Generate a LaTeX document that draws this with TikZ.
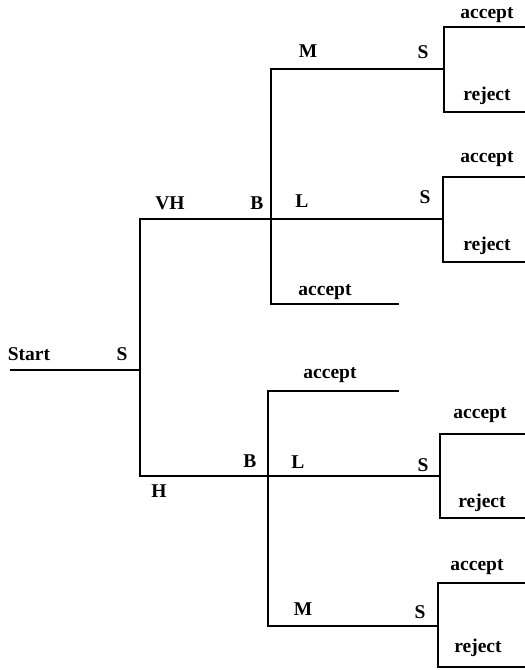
\documentclass[tikz,border=0pt]{standalone}
\usepackage{fontspec}
\setmainfont{Liberation Serif}
\begin{document}
\begin{tikzpicture}[x=1pt,y=-1pt,
  br/.style={line width=1.4pt,line cap=rect},
  lab/.style={inner sep=0pt,anchor=base,font=\fontsize{19.5}{19.5}\selectfont\bfseries}]
\useasboundingbox (0,0) rectangle (525,670);
% branch points
\coordinate (st) at (11,370);
\coordinate (s0) at (140,370);
\coordinate (s0t) at (140,219);
\coordinate (s0b) at (140,476);
\coordinate (b1) at (271,219);
\coordinate (b1t) at (271,69);
\coordinate (b1b) at (271,304);
\coordinate (a1) at (398,304);
\coordinate (s1) at (444,69);
\coordinate (s1t) at (444,27);
\coordinate (s1b) at (444,112);
\coordinate (s1ta) at (525,27);
\coordinate (s1br) at (525,112);
\coordinate (s2) at (443,219);
\coordinate (s2t) at (443,177);
\coordinate (s2b) at (443,262);
\coordinate (s2ta) at (525,177);
\coordinate (s2br) at (525,262);
\coordinate (b2) at (268,476);
\coordinate (b2t) at (268,391);
\coordinate (b2b) at (268,626);
\coordinate (a2) at (398,391);
\coordinate (s3) at (440,476);
\coordinate (s3t) at (440,434);
\coordinate (s3b) at (440,518);
\coordinate (s3ta) at (525,434);
\coordinate (s3br) at (525,518);
\coordinate (s4) at (438,626);
\coordinate (s4t) at (438,583);
\coordinate (s4b) at (438,667);
\coordinate (s4ta) at (525,583);
\coordinate (s4br) at (525,667);
% connectors
\draw[br] (st) -- (s0);
\draw[br] (s0t) -- (s0b);
\draw[br] (s0t) -- (b1) -- (s2);
\draw[br] (s0b) -- (b2) -- (s3);
\draw[br] (b1t) -- (b1b);
\draw[br] (b1t) -- (s1);
\draw[br] (b1b) -- (a1);
\draw[br] (s1ta) -- (s1t) -- (s1b) -- (s1br);
\draw[br] (s2ta) -- (s2t) -- (s2b) -- (s2br);
\draw[br] (b2t) -- (b2b);
\draw[br] (b2t) -- (a2);
\draw[br] (b2b) -- (s4);
\draw[br] (s3ta) -- (s3t) -- (s3b) -- (s3br);
\draw[br] (s4ta) -- (s4t) -- (s4b) -- (s4br);
% labels
\node[lab] (lstart) at (29,360) {Start};
\node[lab] (ls0) at (122,360) {S};
\node[lab] (lvh) at (170,209) {VH};
\node[lab] (lb1) at (257,209) {B};
\node[lab] (lh) at (159,497) {H};
\node[lab] (lb2) at (250,467) {B};
\node[lab] (lm1) at (308,57) {M};
\node[lab] (ls1) at (423,58) {S};
\node[lab] (lacc1) at (487,18) {accept};
\node[lab] (lrej1) at (487,100) {reject};
\node[lab] (ll1) at (302,207) {L};
\node[lab] (ls2) at (425,203) {S};
\node[lab] (lacc2) at (487,162) {accept};
\node[lab] (lrej2) at (487,250) {reject};
\node[lab] (lacc3) at (325,295) {accept};
\node[lab] (lacc4) at (330,378) {accept};
\node[lab] (ll2) at (298,468) {L};
\node[lab] (ls3) at (423,471) {S};
\node[lab] (lacc5) at (480,418) {accept};
\node[lab] (lrej3) at (482,507) {reject};
\node[lab] (lm2) at (303,615) {M};
\node[lab] (ls4) at (420,618) {S};
\node[lab] (lacc6) at (477,570) {accept};
\node[lab] (lrej4) at (478,652) {reject};
\end{tikzpicture}
\end{document}
